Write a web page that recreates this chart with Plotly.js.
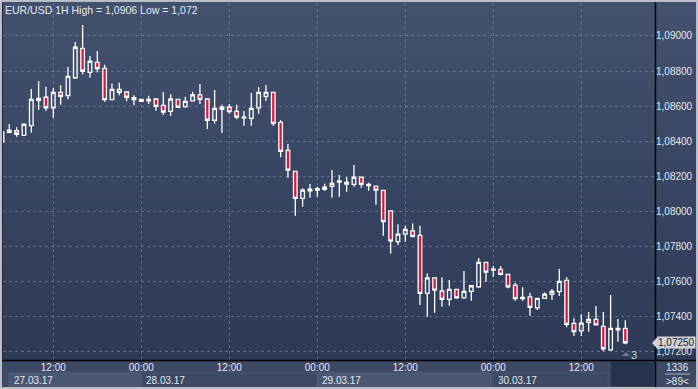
<!DOCTYPE html>
<html>
<head>
<meta charset="utf-8">
<script src="https://cdn.plot.ly/plotly-3.0.1.min.js"></script>
<style>
html,body{margin:0;padding:0;background:#3c4864;}
#wrap{position:relative;width:698px;height:389px;overflow:hidden;
 background:linear-gradient(to bottom,#43516f 0px,#2d3955 360px,#3c4864 361px,#3c4864 389px);}
#frame{position:absolute;left:0;top:0;width:698px;height:389px;box-sizing:border-box;border:2px solid #b9bec7;pointer-events:none;z-index:5;}
#chart{position:absolute;left:0;top:0;width:698px;height:389px;}
</style>
</head>
<body>
<div id="wrap"><div id="chart"></div><div id="frame"></div></div>
<script>
// ---- data ----
const times = [
 "2017-03-27 05:00","2017-03-27 06:00","2017-03-27 07:00","2017-03-27 08:00","2017-03-27 09:00","2017-03-27 10:00","2017-03-27 11:00","2017-03-27 12:00","2017-03-27 13:00","2017-03-27 14:00","2017-03-27 15:00","2017-03-27 16:00","2017-03-27 17:00","2017-03-27 18:00","2017-03-27 19:00","2017-03-27 20:00","2017-03-27 21:00","2017-03-27 22:00","2017-03-27 23:00",
 "2017-03-28 00:00","2017-03-28 01:00","2017-03-28 02:00","2017-03-28 03:00","2017-03-28 04:00","2017-03-28 05:00","2017-03-28 06:00","2017-03-28 07:00","2017-03-28 08:00","2017-03-28 09:00","2017-03-28 10:00","2017-03-28 11:00","2017-03-28 12:00","2017-03-28 13:00","2017-03-28 14:00","2017-03-28 15:00","2017-03-28 16:00","2017-03-28 17:00","2017-03-28 18:00","2017-03-28 19:00","2017-03-28 20:00","2017-03-28 21:00","2017-03-28 22:00","2017-03-28 23:00",
 "2017-03-29 00:00","2017-03-29 01:00","2017-03-29 02:00","2017-03-29 03:00","2017-03-29 04:00","2017-03-29 05:00","2017-03-29 06:00","2017-03-29 07:00","2017-03-29 08:00","2017-03-29 09:00","2017-03-29 10:00","2017-03-29 11:00","2017-03-29 12:00","2017-03-29 13:00","2017-03-29 14:00","2017-03-29 15:00","2017-03-29 16:00","2017-03-29 17:00","2017-03-29 18:00","2017-03-29 19:00","2017-03-29 20:00","2017-03-29 21:00","2017-03-29 22:00","2017-03-29 23:00",
 "2017-03-30 00:00","2017-03-30 01:00","2017-03-30 02:00","2017-03-30 03:00","2017-03-30 04:00","2017-03-30 05:00","2017-03-30 06:00","2017-03-30 07:00","2017-03-30 08:00","2017-03-30 09:00","2017-03-30 10:00","2017-03-30 11:00","2017-03-30 12:00","2017-03-30 13:00","2017-03-30 14:00","2017-03-30 15:00","2017-03-30 16:00","2017-03-30 17:00","2017-03-30 18:00"
];
const opens = [
 1.08396,1.08451,1.08460,1.08434,1.08489,1.08633,1.08651,1.08591,1.08679,1.08660,1.08762,1.08930,1.08793,1.08850,1.08816,1.08637,1.08696,1.08681,1.08637,
 1.08639,1.08631,1.08641,1.08605,1.08571,1.08639,1.08597,1.08630,1.08664,1.08641,1.08520,1.08582,1.08594,1.08571,1.08533,1.08531,1.08590,1.08656,1.08679,1.08508,1.08348,1.08229,1.08075,1.08117,
 1.08122,1.08126,1.08143,1.08168,1.08166,1.08155,1.08195,1.08147,1.08145,1.08120,1.08003,1.07828,1.07871,1.07890,1.07864,1.07533,1.07622,1.07547,1.07499,1.07556,1.07508,1.07545,1.07571,1.07710,
 1.07666,1.07670,1.07642,1.07581,1.07503,1.07514,1.07451,1.07505,1.07528,1.07543,1.07607,1.07362,1.07320,1.07368,1.07385,1.07345,1.07212,1.07326,1.07334
];
const highs = [
 1.08470,1.08499,1.08480,1.08502,1.08698,1.08744,1.08711,1.08704,1.08719,1.08823,1.08966,1.09063,1.08886,1.08915,1.08836,1.08730,1.08734,1.08681,1.08662,
 1.08641,1.08660,1.08641,1.08681,1.08668,1.08639,1.08654,1.08683,1.08726,1.08641,1.08692,1.08608,1.08612,1.08608,1.08573,1.08675,1.08708,1.08721,1.08682,1.08520,1.08384,1.08229,1.08132,1.08156,
 1.08141,1.08158,1.08236,1.08208,1.08195,1.08265,1.08195,1.08164,1.08145,1.08120,1.08003,1.07928,1.07919,1.07932,1.07919,1.07647,1.07622,1.07625,1.07609,1.07556,1.07661,1.07577,1.07735,1.07710,
 1.07689,1.07689,1.07642,1.07594,1.07568,1.07537,1.07505,1.07539,1.07558,1.07672,1.07626,1.07391,1.07414,1.07427,1.07461,1.07427,1.07524,1.07387,1.07381
];
const lows = [
 1.08379,1.08446,1.08426,1.08432,1.08449,1.08578,1.08574,1.08534,1.08608,1.08639,1.08757,1.08782,1.08762,1.08793,1.08626,1.08637,1.08662,1.08628,1.08605,
 1.08624,1.08612,1.08574,1.08550,1.08544,1.08594,1.08591,1.08630,1.08612,1.08470,1.08500,1.08447,1.08557,1.08525,1.08489,1.08489,1.08557,1.08631,1.08487,1.08309,1.08192,1.07976,1.08027,1.08078,
 1.08084,1.08117,1.08078,1.08084,1.08113,1.08141,1.08135,1.08118,1.08038,1.07862,1.07761,1.07809,1.07828,1.07852,1.07467,1.07400,1.07423,1.07457,1.07463,1.07503,1.07503,1.07491,1.07565,1.07600,
 1.07628,1.07636,1.07562,1.07491,1.07491,1.07406,1.07438,1.07505,1.07495,1.07518,1.07340,1.07290,1.07290,1.07315,1.07354,1.07203,1.07206,1.07258,1.07244
];
const closes = [
 1.08453,1.08464,1.08440,1.08497,1.08639,1.08645,1.08591,1.08679,1.08656,1.08770,1.08936,1.08799,1.08856,1.08814,1.08637,1.08696,1.08679,1.08651,1.08648,
 1.08628,1.08639,1.08599,1.08567,1.08641,1.08594,1.08628,1.08664,1.08639,1.08520,1.08588,1.08594,1.08569,1.08538,1.08537,1.08588,1.08679,1.08679,1.08502,1.08343,1.08236,1.08075,1.08122,1.08128,
 1.08130,1.08139,1.08160,1.08174,1.08156,1.08195,1.08155,1.08155,1.08122,1.07942,1.07833,1.07871,1.07898,1.07858,1.07533,1.07622,1.07552,1.07499,1.07556,1.07508,1.07545,1.07577,1.07710,1.07655,
 1.07672,1.07642,1.07571,1.07503,1.07511,1.07454,1.07505,1.07529,1.07545,1.07602,1.07357,1.07315,1.07364,1.07385,1.07354,1.07218,1.07334,1.07334,1.07252
];
const xTickVals = ["2017-03-27 12:00","2017-03-28 00:00","2017-03-28 12:00","2017-03-29 00:00","2017-03-29 12:00","2017-03-30 00:00","2017-03-30 12:00"];
const xTickText = ["12:00","00:00","12:00","00:00","12:00","00:00","12:00"];
const yTickVals = [1.072,1.074,1.076,1.078,1.080,1.082,1.084,1.086,1.088,1.090];
const yTickText = ["1,07200","1,07400","1,07600","1,07800","1,08000","1,08200","1,08400","1,08600","1,08800","1,09000"];
const dayLabels = ["27.03.17","28.03.17","29.03.17","30.03.17"];
const dayStarts = ["2017-03-27 05:58","2017-03-28 00:00","2017-03-29 00:00","2017-03-30 00:00"];
const dayEnds   = ["2017-03-28 00:00","2017-03-29 00:00","2017-03-29 23:40","2017-03-30 15:40"];
const titleText = "EUR/USD 1H High = 1,0906 Low = 1,072";
const lastPriceText = "1,07250";
const lastPrice = 1.07250;
const infoTop = "1336", infoBottom = ">89<", barsLeft = "3";

// ---- chart ----
const FONT = "Liberation Sans, Arial, sans-serif";
const txt = "#e2e8f2";
const FS = 10;
const trace = {
  type: "candlestick", x: times, open: opens, high: highs, low: lows, close: closes,
  increasing: {line: {color: "#ffffff", width: 1.3}, fillcolor: "rgba(0,0,0,0)"},
  decreasing: {line: {color: "#ffffff", width: 1.3}, fillcolor: "#e0163f"},
  whiskerwidth: 0, hoverinfo: "none", showlegend: false
};
const PH = 357; // plot height px
const py = p => (360 - p) / PH;      // pixel y -> paper
const px = p => (p - 3) / 652;       // pixel x -> paper
const shapes = [];
const annotations = [];
dayLabels.forEach((lab, i) => {
  const light = i % 2 === 0;
  shapes.push({type: "rect", xref: "x", yref: "paper", x0: dayStarts[i], x1: dayEnds[i], y0: py(387), y1: py(373),
    fillcolor: light ? "#4a5672" : "rgba(0,0,0,0)", line: {color: light ? "#56627d" : "#4a5571", width: 1}, layer: "below"});
  annotations.push({xref: "x", yref: "paper", x: dayStarts[i], xanchor: "left", xshift: 3, y: py(380), yanchor: "middle",
    text: lab, showarrow: false, font: {family: FONT, size: FS, color: txt}});
});
shapes.push({type: "rect", xref: "paper", yref: "paper", x0: px(610), x1: px(655), y0: py(387), y1: py(361),
  fillcolor: "#27324c", line: {color: "#4a5571", width: 1}});
shapes.push({type: "line", xref: "paper", yref: "paper", x0: px(0), x1: px(698), y0: py(360.5), y1: py(360.5), line: {color: "#000", width: 1.5}});
shapes.push({type: "line", xref: "paper", yref: "paper", x0: px(655.5), x1: px(655.5), y0: py(389), y1: py(0), line: {color: "#000", width: 1.5}});
shapes.push({type: "line", xref: "paper", yref: "paper", x0: px(2.5), x1: px(2.5), y0: py(360), y1: py(2), line: {color: "#1f2739", width: 1}});
shapes.push({type: "line", xref: "paper", yref: "paper", x0: px(665), x1: px(690), y0: py(374), y1: py(374), line: {color: "#aab2c2", width: 1}});
shapes.push({type: "path", xref: "paper", xsizemode: "pixel", xanchor: 1, yref: "y", ysizemode: "pixel", yanchor: lastPrice,
  path: "M 3,6.5 L -3,0 L 3,-6.5 Z", fillcolor: "#d0d4da", line: {width: 0}});
shapes.push({type: "path", xref: "paper", xsizemode: "pixel", xanchor: px(626), yref: "paper", ysizemode: "pixel", yanchor: py(356),
  path: "M -4,0 L 4,0 L 0,4 Z", fillcolor: "#6f7891", line: {width: 0}});

annotations.push({xref: "paper", yref: "paper", x: px(3), xanchor: "left", y: py(2), yanchor: "top",
  text: titleText, showarrow: false, font: {family: FONT, size: 10.5, color: "#e4e9f2"}});
annotations.push({xref: "paper", yref: "y", x: 1, xanchor: "left", xshift: 1.5, y: lastPrice, yanchor: "middle", yshift: 0.5,
  text: lastPriceText, showarrow: false, bgcolor: "#d0d4da", borderpad: 0, font: {family: FONT, size: FS, color: "#222"}});
annotations.push({xref: "paper", yref: "paper", x: px(677), xanchor: "center", y: py(367), yanchor: "middle",
  text: infoTop, showarrow: false, font: {family: FONT, size: FS, color: txt}});
annotations.push({xref: "paper", yref: "paper", x: px(677), xanchor: "center", y: py(381), yanchor: "middle",
  text: infoBottom, showarrow: false, font: {family: FONT, size: FS, color: txt}});
annotations.push({xref: "paper", yref: "paper", x: px(634), xanchor: "center", y: py(355), yanchor: "middle",
  text: barsLeft, showarrow: false, font: {family: FONT, size: 11, color: "#c9d6ee"}});

const layout = {
  width: 698, height: 389,
  margin: {l: 3, r: 42.5, t: 3, b: 28.5, pad: 0},
  paper_bgcolor: "rgba(0,0,0,0)", plot_bgcolor: "rgba(0,0,0,0)",
  boxgap: 0.3,
  font: {family: FONT, size: FS, color: txt},
  xaxis: {type: "date", range: ["2017-03-27 05:08:30", "2017-03-30 22:03"], rangeslider: {visible: false},
    tickmode: "array", tickvals: xTickVals, ticktext: xTickText, ticks: "",
    showgrid: true, gridcolor: "rgba(120,134,165,0.6)", griddash: "3px,3px", gridwidth: 1,
    zeroline: false, showline: false, tickfont: {family: FONT, size: FS, color: txt}, fixedrange: true},
  yaxis: {side: "right", range: [1.071538, 1.09188], tickmode: "array", tickvals: yTickVals, ticktext: yTickText,
    ticks: "", showgrid: true, gridcolor: "rgba(120,134,165,0.6)", griddash: "3px,3px", gridwidth: 1,
    zeroline: false, showline: false, tickfont: {family: FONT, size: FS, color: txt}, fixedrange: true},
  shapes: shapes, annotations: annotations, showlegend: false
};
Plotly.newPlot("chart", [trace], layout, {displayModeBar: false, staticPlot: true});
</script>
</body>
</html>
